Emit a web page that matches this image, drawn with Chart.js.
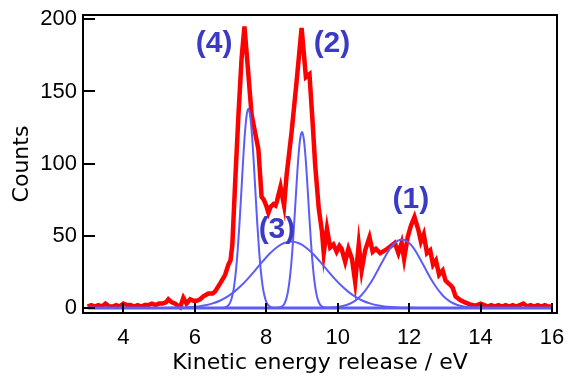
<!DOCTYPE html>
<html><head><meta charset="utf-8">
<script src="https://cdn.jsdelivr.net/npm/chart.js@4.4.1/dist/chart.umd.min.js"></script>
<style>html,body{margin:0;padding:0;background:#fff;}canvas{display:block;}</style>
</head><body>
<canvas id="c" width="568" height="376"></canvas>
<script>
// ---- data ----
const xTickValues = [4, 6, 8, 10, 12, 14, 16];
const yTickValues = [0, 50, 100, 150, 200];

const measuredEnergy = [3.0,3.1,3.2,3.3,3.4,3.5,3.6,3.7,3.8,3.9,4.0,4.1,4.2,4.3,4.4,4.5,4.6,4.7,4.8,4.9,5.0,5.1,5.2,
  5.26,5.35,5.45,5.59,5.68,5.77,5.87,5.96,
  6.05,6.15,6.24,6.38,6.5,6.57,6.71,6.85,6.94,
  7.0,7.05,7.13,7.22,7.31,7.39,7.48,7.59,7.7,7.78,7.87,7.93,
  8.0,8.06,8.12,8.2,8.26,8.3,8.4,8.5,8.57,8.71,8.85,8.99,
  9.11,9.21,9.3,9.37,9.47,9.56,9.61,9.7,9.79,9.88,9.97,
  10.05,10.11,10.21,10.3,10.4,10.49,10.59,10.67,10.77,10.89,10.98,
  11.07,11.19,11.33,11.47,11.6,11.7,11.79,11.86,11.96,
  12.05,12.15,12.26,12.33,12.41,12.5,12.59,12.67,12.75,12.84,12.94,
  13.02,13.1,13.15,13.22,13.3,13.43,13.55,13.7,13.85,
  14.0,14.1,14.2,14.3,14.4,14.5,14.6,14.7,14.8,14.9,15.0,15.1,15.2,15.3,15.4,15.5,15.6,15.7,15.8,15.9,16.0];
const measuredCounts = [1,2,1,2,1,3,1,1,2,1,3,2,2,1,2,1,2,2,3,2,3,3,4,
  6,4,3,0.5,7,3,6,5,
  5,6,8,10,10,11.5,17,23,30,
  33,43.6,87,133,173,195,168,134,120,110,77,75,
  71,66,70,72,71,74,84,71,92,122,157,194,
  160,162,128,99,69,53,38,55,42,44,39,
  43,41,32,41,34,18,44,26,40,49,39,
  41,38,40,42.5,45,38,45,34,49,
  57,63,54,46,51,38,40,30,33,23,26,
  19,17,16,14,8,5.5,4,2.5,1.5,
  3,2,1,2,1,2,1,2,1,2,1,2,3,1,2,1,2,1,2,1,1];

const peak4Energy = [3.0,6.7,6.8,6.85,6.9,6.95,7.0,7.05,7.1,7.15,7.2,7.25,7.3,7.35,7.4,7.45,7.5,7.55,7.6,7.65,7.7,7.75,7.8,7.85,7.9,7.95,8.0,8.05,8.1,8.15,8.2,8.3,16.0];
const peak4Counts = [0,0,0.16,0.4,0.94,2.1,4.3,8.4,15.0,25.3,39.7,58.1,79.3,101.1,120.2,133.3,138,133.3,120.2,101.1,79.3,58.1,39.7,25.3,15.0,8.4,4.3,2.1,0.94,0.4,0.16,0,0];

const peak2Energy = [3.0,8.2,8.3,8.4,8.45,8.5,8.55,8.6,8.65,8.7,8.75,8.8,8.85,8.9,8.95,9.0,9.05,9.1,9.15,9.2,9.25,9.3,9.35,9.4,9.45,9.5,9.55,9.6,9.7,9.8,16.0];
const peak2Counts = [0,0,0.06,0.47,1.1,2.6,5.4,10.3,18.4,30.4,46.5,65.8,86.2,104.6,117.4,122,117.4,104.6,86.2,65.8,46.5,30.4,18.4,10.3,5.4,2.6,1.1,0.47,0.06,0,0];

const peak3Energy = [3.0,5.1,5.4,5.7,5.9,6.1,6.3,6.5,6.7,6.9,7.1,7.3,7.5,7.7,7.9,8.1,8.3,8.5,8.7,8.9,9.1,9.3,9.5,9.7,9.9,10.1,10.3,10.5,10.7,10.9,11.1,11.3,11.5,11.7,12.0,12.3,16.0];
const peak3Counts = [0,0,0.11,0.31,0.6,1.09,1.89,3.15,5.01,7.64,11.14,15.53,20.71,26.44,32.26,37.68,42.1,44.99,46,44.99,42.1,37.68,32.26,26.44,20.71,15.53,11.14,7.64,5.01,3.15,1.89,1.09,0.6,0.31,0.11,0,0];

const peak1Energy = [3.0,9.2,9.5,9.8,10.0,10.2,10.3,10.4,10.5,10.6,10.7,10.8,10.9,11.0,11.1,11.2,11.3,11.4,11.5,11.6,11.7,11.8,11.9,12.0,12.1,12.2,12.3,12.4,12.5,12.6,12.7,12.8,12.9,13.0,13.1,13.2,13.3,13.4,13.6,13.8,14.1,14.4,16.0];
const peak1Counts = [0,0,0.05,0.26,0.7,1.7,2.55,3.71,5.27,7.3,9.85,12.94,16.56,20.66,25.11,29.74,34.32,38.57,42.25,45.09,46.89,47.5,46.89,45.09,42.25,38.57,34.32,29.74,25.11,20.66,16.56,12.94,9.85,7.3,5.27,3.71,2.55,1.7,0.7,0.26,0.05,0,0];

const baselineEnergy = [3.0, 16.0];
const baselineCounts = [0, 0];

const peakLabels = ['(4)', '(2)', '(3)', '(1)'];
const peakLabelEnergy = [6.54, 9.84, 8.30, 12.05];
const peakLabelCounts = [183, 183, 54, 75];

// ---- chart ----
const pts = (xs, ys) => xs.map((v, i) => ({x: v, y: ys[i]}));
const BLUE = '#5c5cf6';

const framePlugin = {
  id: 'framePlugin',
  afterDatasetsDraw(chart) {
    const {ctx, chartArea: a, scales: {x, y}} = chart;
    ctx.save();
    ctx.strokeStyle = '#000';
    ctx.lineWidth = 2;
    ctx.beginPath();
    xTickValues.forEach(v => {
      const px = Math.round(x.getPixelForValue(v));
      ctx.moveTo(px, a.bottom); ctx.lineTo(px, a.bottom - 10);
    });
    yTickValues.forEach(v => {
      const py = Math.round(y.getPixelForValue(v));
      ctx.moveTo(a.left, py); ctx.lineTo(a.left + 12, py);
    });
    ctx.stroke();
    ctx.strokeRect(a.left, a.top, a.right - a.left, a.bottom - a.top);
    ctx.fillStyle = '#3a3ac6';
    ctx.font = 'bold 30px "Liberation Sans", Arial, sans-serif';
    ctx.textAlign = 'center';
    ctx.textBaseline = 'middle';
    peakLabels.forEach((t, i) => {
      ctx.fillText(t, x.getPixelForValue(peakLabelEnergy[i]), y.getPixelForValue(peakLabelCounts[i]));
    });
    ctx.restore();
  }
};

const blueSet = (xs, ys, w) => ({
  data: pts(xs, ys), borderColor: BLUE, borderWidth: w, pointRadius: 0,
  cubicInterpolationMode: 'monotone', fill: false, order: 0
});

const noPad = s => { s.paddingLeft = 0; s.paddingRight = 0; s.paddingTop = 0; s.paddingBottom = 0; };

new Chart(document.getElementById('c'), {
  type: 'line',
  data: {
    datasets: [
      blueSet(baselineEnergy, baselineCounts, 3),
      blueSet(peak4Energy, peak4Counts, 2),
      blueSet(peak2Energy, peak2Counts, 2),
      blueSet(peak3Energy, peak3Counts, 2),
      blueSet(peak1Energy, peak1Counts, 2),
      {data: pts(measuredEnergy, measuredCounts), borderColor: '#ff0000', borderWidth: 4.5,
       pointRadius: 0, tension: 0, fill: false, order: 1}
    ]
  },
  options: {
    responsive: false,
    animation: false,
    devicePixelRatio: 1,
    layout: {padding: {left: 0, right: 11, top: 15, bottom: 0}},
    plugins: {legend: {display: false}, tooltip: {enabled: false}},
    scales: {
      x: {
        type: 'linear', min: 2.87, max: 16.14,
        afterBuildTicks: s => { s.ticks = xTickValues.map(v => ({value: v})); },
        afterFit: s => { s.height = 63; noPad(s); },
        grid: {display: false, drawTicks: false},
        border: {display: false},
        ticks: {color: '#000', padding: 12, maxRotation: 0, font: {family: '"Liberation Sans", Arial, sans-serif', size: 22}},
        title: {display: true, text: 'Kinetic energy release / eV', color: '#000',
                font: {family: '"DejaVu Sans", sans-serif', size: 22}, padding: {top: 0, bottom: 0}}
      },
      y: {
        type: 'linear', min: -3.5, max: 203,
        afterBuildTicks: s => { s.ticks = yTickValues.map(v => ({value: v})); },
        afterFit: s => { s.width = 83; noPad(s); },
        grid: {display: false, drawTicks: false},
        border: {display: false},
        ticks: {color: '#000', padding: 6, font: {family: '"Liberation Sans", Arial, sans-serif', size: 22}},
        title: {display: true, text: 'Counts', color: '#000',
                font: {family: '"DejaVu Sans", sans-serif', size: 22}, padding: {top: 9, bottom: 0}}
      }
    }
  },
  plugins: [framePlugin]
});
</script>
</body></html>
